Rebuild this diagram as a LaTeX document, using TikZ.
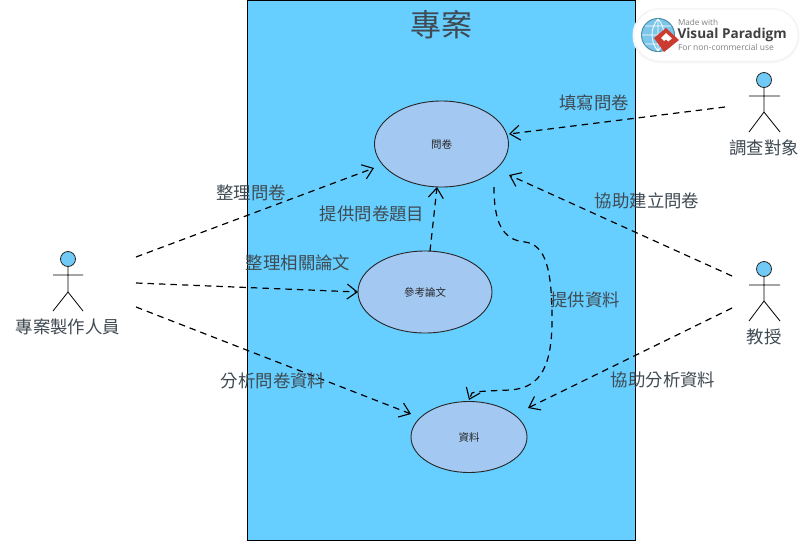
\documentclass[tikz,border=0pt]{standalone}
\usepackage{fontspec}
\setmainfont{Noto Sans CJK TC}
\newfontfamily\logofont{Open Sans}
\usetikzlibrary{arrows.meta,shapes.geometric}
\definecolor{sysfill}{HTML}{66CFFF}
\definecolor{ucfill}{HTML}{A3C8F2}
\definecolor{actfill}{HTML}{71C9F5}
\definecolor{labcol}{HTML}{3F4A52}
\definecolor{logored}{HTML}{CC3B30}
\definecolor{globefill}{HTML}{7CC6EA}
\definecolor{globeline}{HTML}{4A8DA8}
\tikzset{
  every node/.style={inner sep=0pt,outer sep=0pt},
  usecase/.style={ellipse,draw=black!85,line width=.9pt,fill=ucfill,text=black!85,font=\fontsize{10.5}{12}\selectfont},
  lab/.style={text=labcol,font=\fontsize{17.4}{20}\selectfont},
  dep/.style={draw=black,line width=1.2pt,dash pattern=on 6.5pt off 5pt,-{Straight Barb[length=10pt,width=15pt,line width=1.1pt,sharp]}},
  headc/.style={circle,draw=black!85,fill=actfill,line width=.8pt,minimum size=15pt},
  stick/.style={draw=black,line width=.8pt},
}
\begin{document}
\begin{tikzpicture}[x=1pt,y=-1pt]
\useasboundingbox (0,0) rectangle (806,541);
\fill[white] (0,0) rectangle (806,541);
\node[draw=black,fill=sysfill,line width=.9pt,minimum width=388pt,minimum height=540pt,anchor=north west] (sys) at (247.5,0) {};
\node[text=labcol,font=\fontsize{31}{36}\selectfont] (title) at (441,25) {專案};

% use cases
\node[usecase,minimum width=134pt,minimum height=86pt] (q) at (441.5,144) {問卷};
\node[usecase,minimum width=134pt,minimum height=82pt] (p) at (425,292) {參考論文};
\node[usecase,minimum width=116pt,minimum height=71pt] (d) at (469,437) {資料};

% actors
\node[headc] (h1) at (68,259) {};
\draw[stick] (h1) -- (68,292) (53,275) -- (83,275) (53,311) -- (68,292) -- (83,311);
\node[lab] (a1) at (68,327) {專案製作人員};
\node[headc] (h2) at (764,80) {};
\draw[stick] (h2) -- (764,112) (749,96) -- (780,96) (749,132) -- (764,112) -- (780,132);
\node[lab] (a2) at (764,148) {調查對象};
\node[headc] (h3) at (764,269) {};
\draw[stick] (h3) -- (764,301) (749,285) -- (780,285) (749,321) -- (764,301) -- (780,321);
\node[lab] (a3) at (764,337) {教授};

% free ends
\coordinate (s1a) at (136,257);
\coordinate (s1b) at (136,283);
\coordinate (s1c) at (136,307);
\coordinate (s2) at (725,107);
\coordinate (s3a) at (732,276);
\coordinate (s3b) at (732,308);
\coordinate (t1a) at (374,168);
\coordinate (t1c) at (411,414);
\coordinate (t2) at (509,134);
\coordinate (t3a) at (509,175);
\coordinate (t3b) at (528,408);
\coordinate (s4) at (430,251);
\coordinate (t4) at (437,187);
\coordinate (s5) at (494,187);
\coordinate (t5) at (469,400);

\draw[dep] (s1a) -- (t1a);
\draw[dep] (s1b) -- (p.west);
\draw[dep] (s1c) -- (t1c);
\draw[dep] (s2) -- (t2);
\draw[dep] (s3a) -- (t3a);
\draw[dep] (s3b) -- (t3b);
\draw[dep] (s4) -- (t4);
\draw[dep] (s5) .. controls (494,222) and (502,240) .. (525,242)
  .. controls (546,245) and (552,270) .. (552,320)
  .. controls (552,375) and (535,388) .. (510,390)
  .. controls (490,391) and (477,391) .. (472,393) -- (t5);

% labels
\node[lab] (l1) at (251,193) {整理問卷};
\node[lab] (l2) at (298,263) {整理相關論文};
\node[lab] (l3) at (273,381) {分析問卷資料};
\node[lab] (l4) at (372,214) {提供問卷題目};
\node[lab] (l5) at (594,103) {填寫問卷};
\node[lab] (l6) at (647,201) {協助建立問卷};
\node[lab] (l7) at (585,300) {提供資料};
\node[lab] (l8) at (663,380) {協助分析資料};

% logo
\node[fill=black!4,rounded corners=27pt,minimum width=167pt,minimum height=55pt] (logoshadow) at (716,35.5) {};
\node[fill=white,rounded corners=25.5pt,minimum width=163pt,minimum height=51pt] (logo) at (716,35) {};
\node[circle,fill=globefill,draw=globeline,line width=1pt,minimum size=33pt] (globe) at (658,35) {};
\draw[white,line width=.8pt] (642,35) -- (674,35) (658,19) -- (658,51) (658,19) .. controls (650,28) and (650,42) .. (658,51) (658,19) .. controls (666,28) and (666,42) .. (658,51) (645,26) -- (671,26) (645,44) -- (671,44);
\fill[logored] (666,28) -- (679,40) -- (664,52) -- (654,38) -- cycle;
\fill[white] (666,33) -- (672,38.5) -- (668,41.5) -- (666,39.5) -- (664,41) -- (661,38) -- cycle;
\node[anchor=west,text=black!50,font=\logofont\fontsize{8.2}{9}\selectfont] (lg1) at (678,22.5) {Made with};
\node[anchor=west,text=black!75,font=\logofont\bfseries\fontsize{13.6}{15}\selectfont] (lg2) at (677.5,34.5) {Visual Paradigm};
\node[anchor=west,text=black!50,font=\logofont\fontsize{8.5}{9}\selectfont] (lg3) at (678,47) {For non-commercial use};
\end{tikzpicture}
\end{document}
